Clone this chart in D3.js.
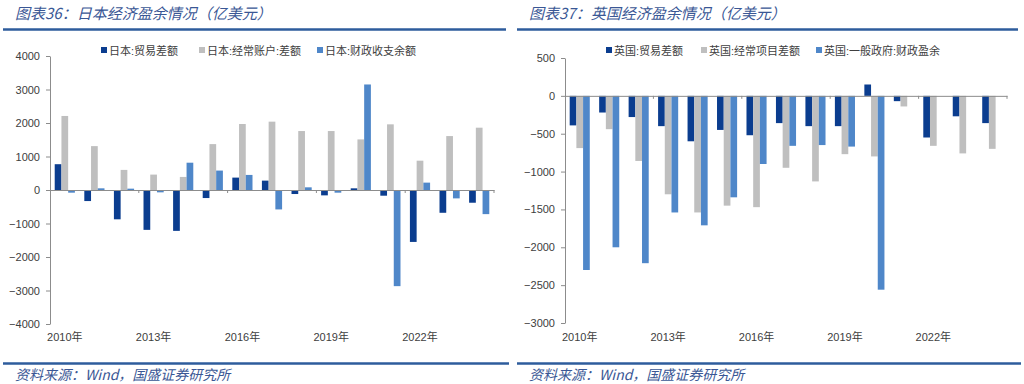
<!DOCTYPE html>
<html lang="zh">
<head>
<meta charset="UTF-8">
<title>日本、英国经济盈余情况</title>
<script src="https://d3js.org/d3.v7.min.js"></script>
<style>
  html, body { margin: 0; padding: 0; background: #fff; }
  svg { display: block; font-family: "Liberation Sans", Arial, "Noto Sans CJK SC", sans-serif; }
  .title, .source { font-family: "Noto Sans CJK SC", sans-serif; font-style: italic; fill: #3a5795; }
  .legend text { font-family: "Liberation Sans", Arial, "Noto Sans CJK SC", sans-serif; font-size: 11px; fill: #404040; }
  .axis text { font-size: 11px; fill: #404040; }
  .axis path, .axis line { stroke: #8c8c8c; }
</style>
</head>
<body>
<svg width="1024" height="384"></svg>
<script>
// categories
const years = ["2010","2011","2012","2013","2014","2015","2016","2017","2018","2019","2020","2021","2022","2023","2024"];
const yearLabels = ["2010年","2013年","2016年","2019年","2022年"];

// 日本（亿美元）
const jpTrade   = [770, -330, -875, -1190, -1220, -240, 370, 280, -120, -160, 50, -170, -1550, -680, -380];
const jpCurrent = [2210, 1310, 600, 460, 390, 1370, 1970, 2040, 1760, 1760, 1510, 1960, 875, 1610, 1860];
const jpFiscal  = [-80, 50, 40, -70, 815, 580, 450, -580, 80, -80, 3150, -2870, 220, -250, -720];
const jpTicks   = [-4000, -3000, -2000, -1000, 0, 1000, 2000, 3000, 4000];
const jpNames   = ["日本:贸易差额", "日本:经常账户:差额", "日本:财政收支余额"];

// 英国（亿美元）
const ukTrade   = [-390, -220, -280, -400, -600, -450, -520, -360, -400, -400, 150, -70, -550, -270, -360];
const ukCurrent = [-690, -440, -860, -1300, -1540, -1450, -1470, -950, -1130, -770, -800, -140, -660, -760, -700];
const ukFiscal  = [-2300, -2000, -2210, -1540, -1710, -1340, -900, -660, -650, -670, -2560, null, null, null, null];
const ukTicks   = [-3000, -2500, -2000, -1500, -1000, -500, 0, 500];
const ukNames   = ["英国:贸易差额", "英国:经常项目差额", "英国:一般政府:财政盈余"];

const colors = ["#0b3d8f", "#bfbfbf", "#4f87c9"];

const svg = d3.select("svg");

function panel(opt) {
  const g = svg.append("g");

  // header / footer
  g.append("text").attr("class", "title")
    .attr("x", opt.left + 12).attr("y", 19)
    .style("font-size", "15px")
    .text(opt.title);
  g.append("line")
    .attr("x1", opt.left).attr("x2", opt.right)
    .attr("y1", 29.5).attr("y2", 29.5)
    .attr("stroke", "#2e5c9c").attr("stroke-width", 2.5);
  g.append("line")
    .attr("x1", opt.left).attr("x2", opt.right + 3)
    .attr("y1", 363.5).attr("y2", 363.5)
    .attr("stroke", "#2e5c9c").attr("stroke-width", 2.5);
  g.append("text").attr("class", "source")
    .attr("x", opt.left + 12).attr("y", 380)
    .style("font-size", "14px")
    .text("资料来源：Wind，国盛证券研究所");

  const x = d3.scaleBand().domain(years).range([opt.x0, opt.x1]);
  const xs = d3.scaleBand().domain([0, 1, 2]).range([0, x.bandwidth()]).paddingOuter(0.7);
  const y = d3.scaleLinear().domain(opt.domain).range(opt.yRange);

  // y axis
  g.append("g").attr("class", "axis")
    .attr("transform", `translate(${opt.x0},0)`)
    .call(d3.axisLeft(y).tickValues(opt.ticks).tickSize(4).tickSizeOuter(0).tickPadding(6).tickFormat(d3.format("d")));

  // bars
  const series = opt.series.map((vals, k) => vals.map((v, i) => ({ k, year: years[i], v })));
  series.forEach(s => {
    g.append("g").selectAll("rect")
      .data(s.filter(d => d.v !== null))
      .join("rect")
      .attr("x", d => x(d.year) + xs(d.k))
      .attr("width", xs.bandwidth())
      .attr("y", d => y(Math.max(0, d.v)))
      .attr("height", d => Math.abs(y(d.v) - y(0)))
      .attr("fill", colors[s[0].k]);
  });

  // x axis line at zero with ticks every 3 categories
  g.append("g").attr("class", "axis")
    .attr("transform", `translate(0,${y(0)})`)
    .call(d3.axisBottom(x).tickValues([]).tickSizeOuter(0));
  const bounds = years.filter((d, i) => i > 0 && i % 3 === 0).map(d => x(d)).concat([opt.x1]);
  g.append("g").selectAll("line")
    .data(bounds)
    .join("line")
    .attr("x1", d => d).attr("x2", d => d)
    .attr("y1", y(0)).attr("y2", y(0) + 3)
    .attr("stroke", "#8c8c8c");

  // category labels at the bottom
  g.append("g").attr("class", "axis").selectAll("text")
    .data(yearLabels)
    .join("text")
    .attr("x", d => x(d.slice(0, 4)) + x.bandwidth() / 2)
    .attr("y", 341)
    .attr("text-anchor", "middle")
    .text(d => d);

  // legend
  const lg = g.append("g").attr("class", "legend");
  opt.names.forEach((n, k) => {
    const lx = opt.legendX[k];
    lg.append("rect").attr("x", lx).attr("y", opt.legendY - 4)
      .attr("width", 6).attr("height", 6).attr("fill", colors[k]);
    lg.append("text").attr("x", lx + 8).attr("y", opt.legendY + 3.5).text(n);
  });
}

panel({
  left: 3, right: 506,
  title: "图表36：日本经济盈余情况（亿美元）",
  x0: 50, x1: 494,
  domain: [-4000, 4000], yRange: [324, 56],
  ticks: jpTicks,
  series: [jpTrade, jpCurrent, jpFiscal],
  names: jpNames,
  legendX: [101, 199, 317], legendY: 51
});

panel({
  left: 517, right: 1018,
  title: "图表37：英国经济盈余情况（亿美元）",
  x0: 565, x1: 1007,
  domain: [-3000, 500], yRange: [323, 58],
  ticks: ukTicks,
  series: [ukTrade, ukCurrent, ukFiscal],
  names: ukNames,
  legendX: [606, 701, 816], legendY: 51
});
</script>
</body>
</html>
